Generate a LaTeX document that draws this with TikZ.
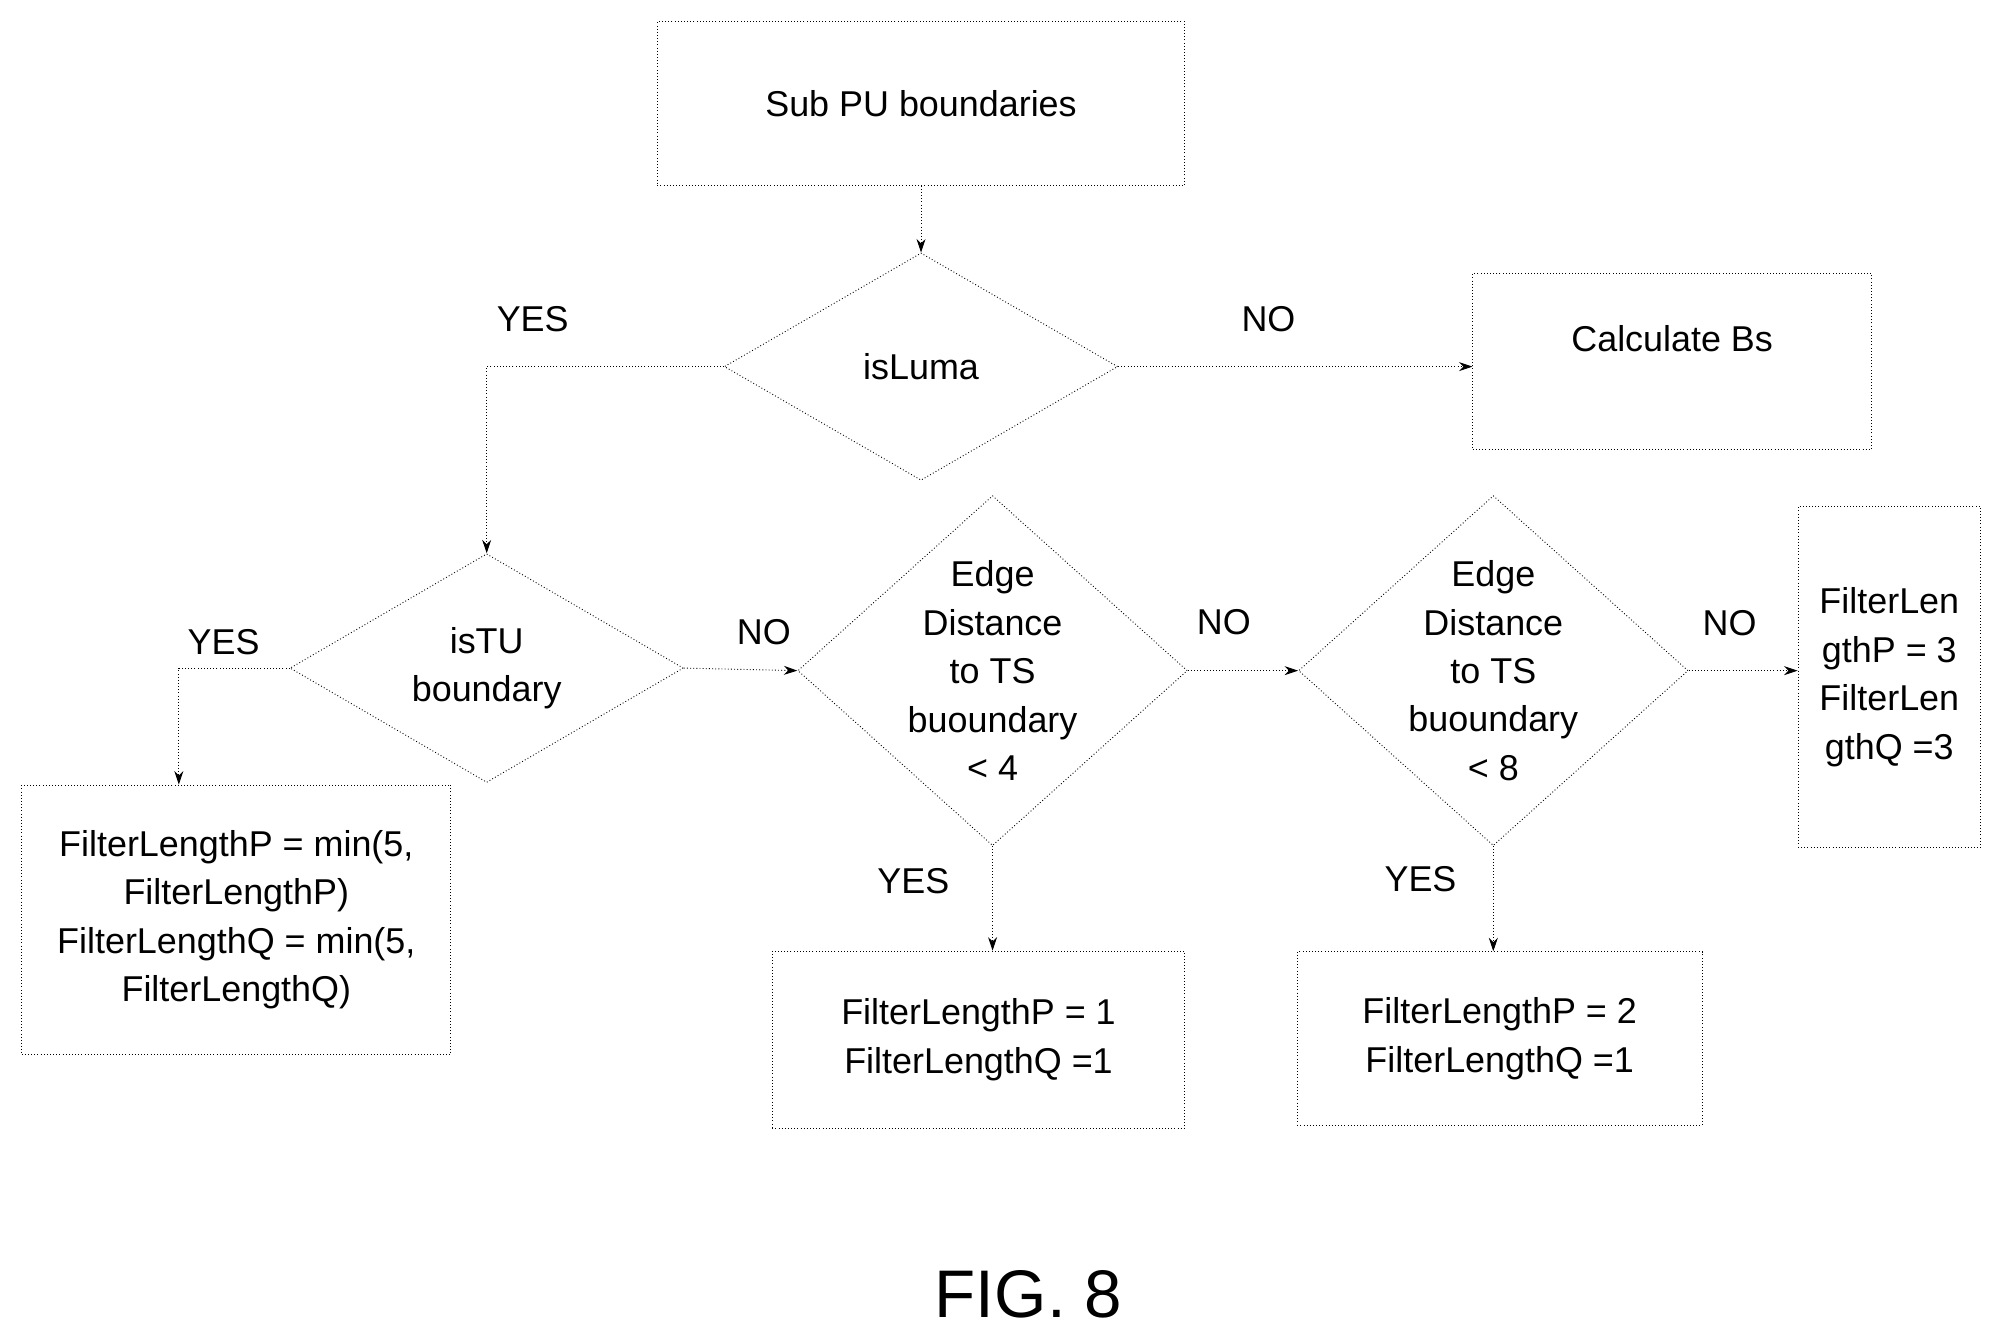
\documentclass[tikz,border=0pt]{standalone}
\usepackage{fontspec}
\setmainfont{Liberation Sans}
\usetikzlibrary{shapes.geometric,arrows.meta}

\begin{document}
\begin{tikzpicture}[x=0.02cm,y=-0.02cm,
  every node/.style={font=\fontsize{16}{21.6}\selectfont},
  box/.style={draw,densely dotted,inner sep=0pt,align=center},
  dia/.style={draw,densely dotted,diamond,inner sep=0pt},
  link/.style={densely dotted,-{Stealth[length=6pt,width=4pt]}},
  lbl/.style={inner sep=0pt}]
\useasboundingbox (0,0) rectangle (1568,1050);
% boxes
\node[box,minimum width=8.26cm,minimum height=2.56cm] (sub) at (721,81) {Sub PU boundaries};
\node[box,minimum width=6.24cm,minimum height=2.76cm] (bs) at (1309,283) {};
\node[lbl] (bstext) at (1309,265) {Calculate Bs};
\node[box,minimum width=6.72cm,minimum height=4.22cm] (five) at (185,720) {FilterLengthP = min(5,\\FilterLengthP)\\FilterLengthQ = min(5,\\FilterLengthQ)};
\node[box,minimum width=6.46cm,minimum height=2.78cm] (one) at (766,814) {FilterLengthP = 1\\FilterLengthQ =1};
\node[box,minimum width=6.34cm,minimum height=2.72cm] (two) at (1174,813) {FilterLengthP = 2\\FilterLengthQ =1};
\node[box,minimum width=2.86cm,minimum height=5.34cm] (three) at (1479,530) {FilterLen\\gthP = 3\\FilterLen\\gthQ =3};
% decisions
\node[dia,minimum width=6.16cm,minimum height=3.56cm,label={center:isLuma}] (luma) at (721,287) {};
\node[dia,minimum width=6.16cm,minimum height=3.58cm,label={[align=center]center:isTU\\boundary}] (tu) at (381,523) {};
\node[dia,minimum width=6.1cm,minimum height=5.48cm,label={[align=center]center:Edge\\Distance\\to TS\\buoundary\\< 4}] (four) at (777,525) {};
\node[dia,minimum width=6.1cm,minimum height=5.48cm,label={[align=center]center:Edge\\Distance\\to TS\\buoundary\\< 8}] (eight) at (1169,525) {};
% connectors
\draw[link] (sub) -- (luma);
\draw[link] (luma.east) -- (bs.west |- luma.east);
\draw[link] (luma.west) -| (tu.north);
\draw[link] (tu.west) -| (five.north -| 140,0);
\draw[link] (tu.east) -- (four.west);
\draw[link] (four.east) -- (eight.west);
\draw[link] (eight.east) -- (three.west |- eight.east);
\draw[link] (four.south) -- (one.north -| four.south);
\draw[link] (eight.south) -- (two.north -| eight.south);
% labels
\node[lbl] (y1) at (417,250) {YES};
\node[lbl] (n1) at (993,250) {NO};
\node[lbl] (y2) at (175,503) {YES};
\node[lbl] (n2) at (598,495) {NO};
\node[lbl] (n3) at (958,487) {NO};
\node[lbl] (n4) at (1354,488) {NO};
\node[lbl] (y3) at (715,690) {YES};
\node[lbl] (y4) at (1112,688) {YES};
\node[lbl,font=\fontsize{30}{36}\selectfont] (fig) at (805,1013) {FIG. 8};
\end{tikzpicture}
\end{document}
